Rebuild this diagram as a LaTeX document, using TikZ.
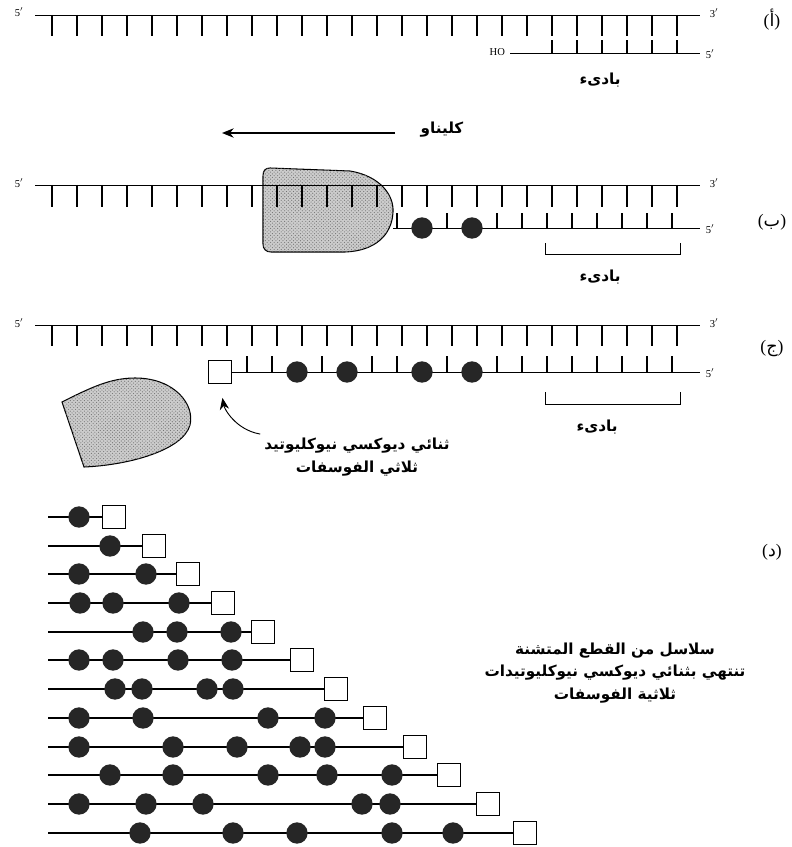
\documentclass[tikz,border=0pt]{standalone}
\usepackage{fontspec}
\setmainfont{Liberation Serif}
\newfontfamily\arabicfont[Script=Arabic]{DejaVu Sans}
\TeXXeTstate=1
\usetikzlibrary{arrows.meta,patterns}
\newcommand{\arab}[1]{\beginR#1\endR}

\begin{document}
\begin{tikzpicture}[x=0.03cm, y=-0.03cm,
    strand/.style={line width=0.7pt},
    rung/.style={line width=1.4pt},
    dnt/.style={circle, fill=black!85, inner sep=0pt, minimum size=0.64cm},
    dd/.style={draw, line width=0.7pt, fill=white, inner sep=0pt, minimum size=0.7cm},
    klenow/.style={draw, line width=0.9pt, fill=gray!40,
      postaction={pattern=crosshatch dots, pattern color=black!55}},
    prime/.style={font=\small},
    artxt/.style={font=\arabicfont\bfseries\fontsize{13}{19}\selectfont, align=center},
    panel/.style={font=\fontsize{15}{18}\selectfont, inner sep=1pt}]
\useasboundingbox (0,0) rectangle (792,847);

% (a) template with primer
\draw[strand] (35,15) -- (700,15);
\foreach \x in {52,77,...,677} \draw[rung] (\x,15) -- (\x,36);
\draw[strand] (510,53) -- (700,53);
\foreach \x in {552,577,...,677} \draw[rung] (\x,53) -- (\x,40);
\node[prime] (a5) at (19,12) {5$'$};
\node[prime] (a3) at (714,13) {3$'$};
\node[prime] (ap5) at (710,54) {5$'$};
\node[prime, anchor=east] (aho) at (509,52) {HO};
\node[artxt] (aprimer) at (600,80) {\arab{بادىء}};
\node[panel] (pa) at (772,20) {({\arabicfont أ})};

% direction of synthesis
\node[artxt] (klen) at (442,130) {\arab{كليناو}};
\coordinate (kstart) at (395,133);
\coordinate (kend) at (222,133);
\draw[-{Stealth[length=10pt,width=8pt]}, line width=1pt] (kstart) -- (kend);

% (b) enzyme on the template
\draw[klenow] (270,168) -- (350,171) .. controls (380,176) and (394,195) .. (393,212)
  .. controls (392,235) and (375,251) .. (345,252) -- (271,252)
  .. controls (266,252) and (263,249) .. (263,244) -- (263,176)
  .. controls (263,171) and (265,168) .. (270,168) -- cycle;
\draw[strand] (35,185) -- (700,185);
\foreach \x in {52,77,...,677} \draw[rung] (\x,185) -- (\x,207);
\draw[strand] (393,228) -- (700,228);
\foreach \x in {397,447,497,522,...,677} \draw[rung] (\x,228) -- (\x,213);
\foreach \x in {422,472} \node[dnt] (b\x) at (\x,228) {};
\draw[strand] (545,243) |- (680,254) -- (680,243);
\node[artxt] (bprimer) at (600,277) {\arab{بادىء}};
\node[prime] (b5) at (19,183) {5$'$};
\node[prime] (b3) at (714,183) {3$'$};
\node[prime] (bp5) at (710,229) {5$'$};
\node[panel] (pb) at (772,222) {({\arabicfont ب})};

% (c) chain stopped by the ddNTP
\draw[strand] (35,325) -- (700,325);
\foreach \x in {52,77,...,677} \draw[rung] (\x,325) -- (\x,346);
\draw[strand] (220,372) -- (700,372);
\foreach \x in {247,272,322,372,397,447,497,522,...,677} \draw[rung] (\x,372) -- (\x,356);
\foreach \x in {297,347,422,472} \node[dnt] (c\x) at (\x,372) {};
\node[dd] (csq) at (220,372) {};
\draw[strand] (545,392) |- (680,404) -- (680,392);
\node[artxt] (cprimer) at (597,427) {\arab{بادىء}};
\node[prime] (c5) at (19,323) {5$'$};
\node[prime] (c3) at (714,323) {3$'$};
\node[prime] (cp5) at (710,373) {5$'$};
\node[panel] (pc) at (772,349) {({\arabicfont ج})};
\draw[klenow] (62,402) .. controls (90,388) and (110,378) .. (135,378)
  .. controls (175,378) and (195,405) .. (190,425)
  .. controls (183,450) and (130,465) .. (84,467) -- cycle;
\node[artxt] (ddntp) at (357,457) {\arab{ثنائي ديوكسي نيوكليوتيد}\\\arab{ثلاثي الفوسفات}};
\draw[-{Stealth[length=10pt,width=8pt]}, line width=0.8pt, shorten >=12pt]
  (ddntp.north west) to[out=170, in=-80] (csq.south);

% (d) set of terminated fragments
\node[panel] (pd) at (772,552) {({\arabicfont د})};
\foreach \y/\dl/\sq [count=\r] in {
    517/{79}/114, 546/{110}/154, 574/{79,146}/188, 603/{80,113,179}/223,
    632/{143,177,231}/263, 660/{79,113,178,232}/302, 689/{115,142,207,233}/336,
    718/{79,143,268,325}/375, 747/{79,173,237,300,325}/415,
    775/{110,173,268,327,392}/449, 804/{79,146,203,362,390}/488,
    833/{140,233,297,392,453}/525} {
  \draw[strand, line width=1pt] (48,\y) -- (\sq,\y);
  \foreach \d in \dl \node[dnt] (d\r-\d) at (\d,\y) {};
  \node[dd] (sq\r) at (\sq,\y) {};
}
\node[artxt] (frag) at (615,673) {\arab{سلاسل من القطع المتشنة}\\\arab{تنتهي بثنائي ديوكسي نيوكليوتيدات}\\\arab{ثلاثية الفوسفات}};
\end{tikzpicture}
\end{document}
